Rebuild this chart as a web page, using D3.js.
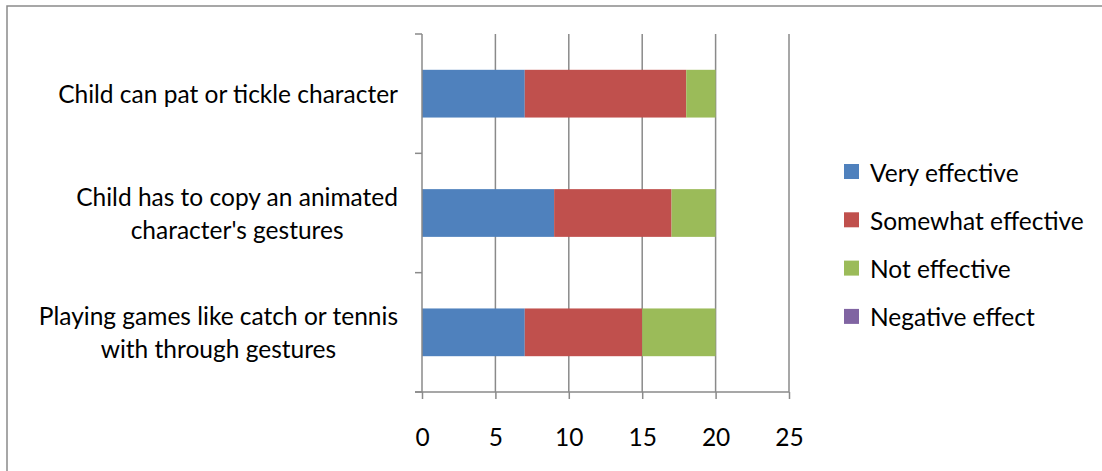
<!DOCTYPE html>
<html>
<head>
<meta charset="utf-8">
<script src="https://cdn.jsdelivr.net/npm/d3@7"></script>
<style>
  html, body { margin: 0; padding: 0; background: #fff; }
  svg { display: block; }
  text { font-family: Lato, "Open Sans", sans-serif; fill: #000; }
</style>
</head>
<body>
<svg id="chart" width="1102" height="471"></svg>
<script>
// Survey responses per interaction type
const categories = [
  ["Child can pat or tickle character"],
  ["Child has to copy an animated", "character's gestures"],
  ["Playing games like catch or tennis", "with through gestures"]
];
const seriesNames = ["Very effective", "Somewhat effective", "Not effective", "Negative effect"];
const veryEffective     = [7, 9, 7];
const somewhatEffective = [11, 8, 8];
const notEffective      = [2, 3, 5];
const negativeEffect    = [0, 0, 0];
const xTicks = [0, 5, 10, 15, 20, 25];
const colors = ["#4F81BD", "#C0504D", "#9BBB59", "#8064A2"];

const svg = d3.select("#chart");
const fontSize = 24.5;

// outer frame
svg.append("rect")
  .attr("x", 7).attr("y", 6).attr("width", 1200).attr("height", 600)
  .attr("fill", "none").attr("stroke", "#8a8a8a").attr("stroke-width", 1.5);

const plot = { left: 422, right: 789, top: 34, bottom: 392 };

const x = d3.scaleLinear().domain([0, 25]).range([plot.left, plot.right]);
const y = d3.scaleBand().domain(d3.range(categories.length))
  .range([plot.top, plot.bottom]).paddingInner(0.6).paddingOuter(0.3);

// gridlines
svg.append("g").selectAll("line").data(xTicks.slice(1)).join("line")
  .attr("x1", d => x(d)).attr("x2", d => x(d))
  .attr("y1", plot.top).attr("y2", plot.bottom)
  .attr("stroke", "#8a8a8a").attr("stroke-width", 1.5);

// stacked bars
const rows = categories.map((c, i) => ({
  i,
  "Very effective": veryEffective[i],
  "Somewhat effective": somewhatEffective[i],
  "Not effective": notEffective[i],
  "Negative effect": negativeEffect[i]
}));
const stacked = d3.stack().keys(seriesNames)(rows);
svg.append("g").selectAll("g").data(stacked).join("g")
  .attr("fill", (d, k) => colors[k])
  .selectAll("rect").data(d => d).join("rect")
  .attr("x", d => x(d[0]))
  .attr("width", d => x(d[1]) - x(d[0]))
  .attr("y", d => y(d.data.i))
  .attr("height", y.bandwidth());

// x axis
const xAxis = svg.append("g").attr("transform", `translate(0,${plot.bottom})`)
  .call(d3.axisBottom(x).tickValues(xTicks).tickSize(7).tickPadding(30));
xAxis.select(".domain").attr("stroke", "#8a8a8a").attr("stroke-width", 1.5)
  .attr("d", `M${plot.left - 7},0H${plot.right}`);
xAxis.selectAll(".tick line").attr("stroke", "#8a8a8a").attr("stroke-width", 1.5);
xAxis.selectAll(".tick text").attr("font-size", fontSize).attr("font-family", "Lato, sans-serif").attr("fill", "#000");

// y axis with ticks on band boundaries
const yEdges = d3.range(categories.length + 1).map(k => plot.top + k * (plot.bottom - plot.top) / categories.length);
const yAxis = svg.append("g");
yAxis.append("line")
  .attr("x1", plot.left).attr("x2", plot.left)
  .attr("y1", plot.top).attr("y2", plot.bottom)
  .attr("stroke", "#8a8a8a").attr("stroke-width", 1.5);
yAxis.selectAll("line.tk").data(yEdges).join("line").attr("class", "tk")
  .attr("x1", plot.left - 7).attr("x2", plot.left)
  .attr("y1", d => d).attr("y2", d => d)
  .attr("stroke", "#8a8a8a").attr("stroke-width", 1.5);

// category labels: block right-aligned, lines centred within block
const lineH = 33;
categories.forEach((lines, i) => {
  const g = svg.append("g");
  const cy = y(i) + y.bandwidth() / 2;
  const texts = lines.map((t, j) => g.append("text")
    .attr("font-size", fontSize)
    .attr("text-anchor", "middle")
    .attr("dominant-baseline", "central")
    .attr("y", cy + (j - (lines.length - 1) / 2) * lineH)
    .text(t));
  const w = d3.max(texts, t => t.node().getComputedTextLength());
  texts.forEach(t => t.attr("x", 398 - w / 2));
});

// legend
const legend = svg.append("g").attr("transform", "translate(844,172)");
const items = legend.selectAll("g").data(seriesNames).join("g")
  .attr("transform", (d, k) => `translate(0,${k * 48.3})`);
items.append("rect").attr("x", 0).attr("y", -8).attr("width", 15).attr("height", 15)
  .attr("fill", (d, k) => colors[k]);
items.append("text").attr("x", 26).attr("dominant-baseline", "central")
  .attr("font-size", fontSize).text(d => d);
</script>
</body>
</html>
